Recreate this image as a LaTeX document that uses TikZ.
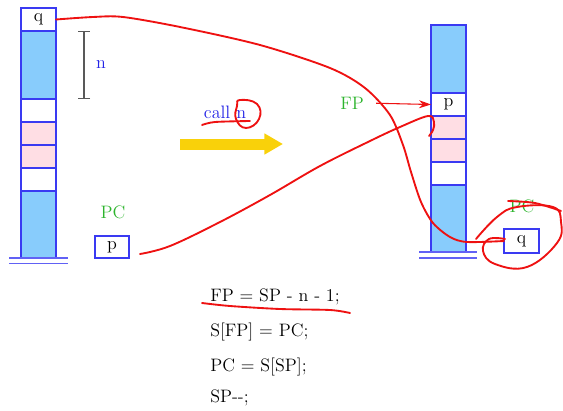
\documentclass[tikz,border=0pt]{standalone}
\usepackage{tikz}
\usetikzlibrary{arrows.meta,positioning,calc}
\definecolor{stkline}{HTML}{3A3AF2}
\definecolor{stkblue}{HTML}{88CCFC}
\definecolor{stkpink}{HTML}{FFDEE4}
\definecolor{lblgreen}{HTML}{2DB42D}
\definecolor{lblblue}{HTML}{2424E6}
\definecolor{inkred}{HTML}{EE1111}
\definecolor{callgold}{HTML}{F9D10A}
\newcommand{\slidefont}{\fontsize{13.5}{16}\selectfont}
\tikzset{
  cell/.style={draw=stkline, fill=white, line width=0.8pt, inner sep=0pt, outer sep=0pt,
               minimum width=26.25pt, minimum height=17.25pt, font=\slidefont},
  bluecell/.style={cell, fill=stkblue},
  pinkcell/.style={cell, fill=stkpink},
  regbox/.style={cell, minimum width=25.5pt, minimum height=16.5pt},
  stackbase/.style={draw=stkline!80, line width=1pt},
  greenlabel/.style={font=\slidefont, text=lblgreen, inner sep=1pt},
  bluelabel/.style={font=\slidefont, text=lblblue, inner sep=1pt},
  codeline/.style={font=\slidefont, anchor=base west, inner sep=0pt},
  sizebar/.style={draw=black!65, line width=0.9pt, {Bar[width=9pt]}-{Bar[width=9pt]}},
  ink/.style={draw=inkred, line width=1.4pt, line cap=round, line join=round},
  inkarrow/.style={draw=inkred, line width=0.8pt, -{Stealth[length=9pt,width=6pt]}},
  callarrow/.style={draw=callgold, line width=8.25pt, -{Triangle[length=14pt,width=15pt]}},
}
\begin{document}
\begin{tikzpicture}[x=0.75pt,y=-0.75pt]
  \useasboundingbox (0,0) rectangle (563,410);
  % stack before the call
  \node[cell, anchor=north west] (lq) at (21,8) {q};
  \node[bluecell, minimum height=51pt, below=0pt of lq] (lb1) {};
  \node[cell, below=0pt of lb1] (lw1) {};
  \node[pinkcell, below=0pt of lw1] (lp1) {};
  \node[pinkcell, below=0pt of lp1] (lp2) {};
  \node[cell, below=0pt of lp2] (lw2) {};
  \node[bluecell, minimum height=50.25pt, below=0pt of lw2] (lb2) {};
  \draw[stackbase] (9,258) -- (68,258);
  \draw[stackbase] (9,263.5) -- (68,263.5);
  \draw[sizebar] (84,31) -- (84,99);
  \node[bluelabel] (nlbl) at (101,65) {n};
  \node[greenlabel] (lpcl) at (113,212) {PC};
  \node[regbox, anchor=north west] (lpc) at (95,236) {p};
  % stack after the call
  \node[bluecell, minimum height=51pt, anchor=north west] (rb1) at (431,25) {};
  \node[cell, below=0pt of rb1] (rp) {p};
  \node[pinkcell, below=0pt of rp] (rp1) {};
  \node[pinkcell, below=0pt of rp1] (rp2) {};
  \node[cell, below=0pt of rp2] (rw) {};
  \node[bluecell, minimum height=50.25pt, below=0pt of rw] (rb2) {};
  \draw[stackbase] (419,252) -- (477,252);
  \draw[stackbase] (419,258) -- (477,258);
  \node[greenlabel] (fpl) at (352,103) {FP};
  \draw[inkarrow, shorten <=8pt] (fpl.east) -- (rp.west);
  \node[greenlabel] (rpcl) at (522,206) {PC};
  \node[regbox, minimum width=26.25pt, minimum height=18pt, anchor=north west] (rpc) at (504,229) {q};
  % the call
  \node[bluelabel] (calll) at (225,112) {call n};
  \draw[callarrow] (180,144) -- (283,144);
  % code
  \node[codeline] (code1) at (210,301) {FP = SP - n - 1;};
  \node[codeline] (code2) at (210,336) {S[FP] = PC;};
  \node[codeline] (code3) at (210,371) {PC = S[SP];};
  \node[codeline] (code4) at (210,402) {SP-{}-;};
  % hand-drawn marks
  \draw[ink] plot[smooth] coordinates {(lq.east) (93,17) (123,17) (180,27) (260,45)
    (330,68) (365,88) (390,115) (403,145) (411,172) (421,202) (433,223) (450,237)
    (467,242) (rpc.west)};
  \draw[ink] plot[smooth, tension=0.6] coordinates {(140,254) (170,246) (220,222)
    (270,195) (320,166) (370,141) (400,127) (428,116) (434,122) (433,130) (429,136)};
  \draw[ink] plot[smooth] coordinates {(202,125) (215,122) (250,121)};
  \draw[ink] plot[smooth cycle, tension=0.8] coordinates {(240,100) (257,104) (259,119)
    (246,128) (236,119) (237,106)};
  \draw[ink] plot[smooth] coordinates {(202,303) (230,306) (280,309) (330,310) (350,313)};
  \draw[ink] plot[smooth, tension=0.7] coordinates {(476,239) (497,217) (517,207) (553,207)
    (561,222) (557,243) (527,267) (495,264) (483,251) (489,239) (505,239)};
  \draw[ink] plot[smooth] coordinates {(508,201) (535,203) (561,211)};
\end{tikzpicture}
\end{document}
